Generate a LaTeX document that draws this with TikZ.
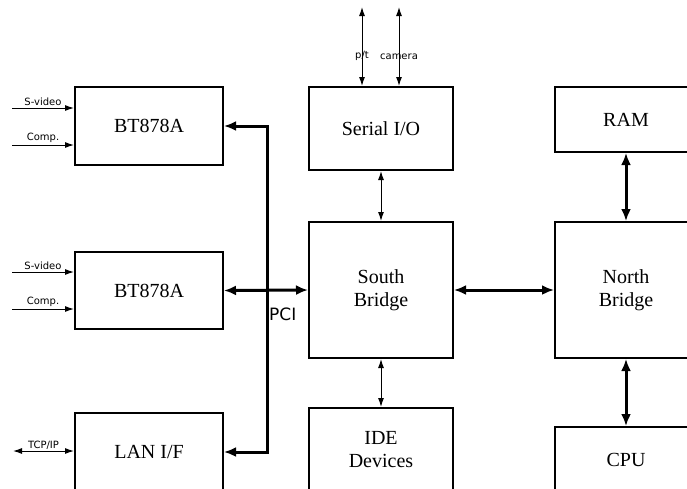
\documentclass[tikz,border=0pt]{standalone}
\usepackage{fontspec}
\setmainfont{Liberation Serif}
\newfontfamily\labelfont{DejaVu Sans}
\usetikzlibrary{arrows.meta}

\tikzset{
  blok/.style={draw, line width=2pt, align=center, inner sep=0pt,
    font=\fontsize{20}{23}\selectfont},
  klein/.style={font=\labelfont\fontsize{10}{11}\selectfont, inner sep=1.5pt},
  dunpijl/.style={line width=1pt, -{Latex[length=9pt,width=6pt]}},
  dunpijlen/.style={line width=1pt, {Latex[length=9pt,width=6pt]}-{Latex[length=9pt,width=6pt]}},
  dikpijlen/.style={line width=3pt, {Latex[length=12pt,width=10pt]}-{Latex[length=12pt,width=10pt]}},
}

\begin{document}
\begin{tikzpicture}[x=1pt, y=-1pt]
\useasboundingbox (0,0) rectangle (687,488);
\clip (0,0) rectangle (687,488);

% Blokken links
\node[blok, minimum width=148, minimum height=78] (bta) at (149,126) {BT878A};
\node[blok, minimum width=148, minimum height=77] (btb) at (149,290.5) {BT878A};
\node[blok, minimum width=148, minimum height=78] (lan) at (149,452) {LAN I/F};

% Blokken midden
\node[blok, minimum width=144, minimum height=83] (serial) at (381,128.5) {Serial I/O};
\node[blok, minimum width=144, minimum height=136] (south) at (381,290) {South\\Bridge};
\node[blok, minimum width=144, minimum height=84] (ide) at (381,450) {IDE\\Devices};

% Blokken rechts
\node[blok, minimum width=142, minimum height=65] (ram) at (626,119.5) {RAM};
\node[blok, minimum width=142, minimum height=136] (north) at (626,290) {North\\Bridge};
\node[blok, minimum width=142, minimum height=66] (cpu) at (626,460) {CPU};

% Ingangen video en netwerk
\coordinate (sva) at (12,108);
\coordinate (cpa) at (12,145);
\coordinate (svb) at (12,272);
\coordinate (cpb) at (12,309);
\coordinate (tcp) at (13,451);
\draw[dunpijl] (sva) -- (bta.west |- sva) node[midway, above, klein] {S-video};
\draw[dunpijl] (cpa) -- (bta.west |- cpa) node[midway, above, klein] {Comp.};
\draw[dunpijl] (svb) -- (btb.west |- svb) node[midway, above, klein] {S-video};
\draw[dunpijl] (cpb) -- (btb.west |- cpb) node[midway, above, klein] {Comp.};
\draw[dunpijlen] (tcp) -- (lan.west |- tcp) node[midway, above, klein] {TCP/IP};

% Seriele aansluitingen
\coordinate (pt) at (362,7);
\coordinate (cam) at (399,7);
\draw[dunpijlen] (serial.north -| pt) -- (pt) node[pos=0.375, klein] {p/t};
\draw[dunpijlen] (serial.north -| cam) -- (cam) node[pos=0.375, klein] {camera};

% PCI-bus
\coordinate (onderbus) at (267,451);
\draw[dikpijlen] (bta.east) -| (onderbus) |- (lan.east);
\draw[dikpijlen] (btb.east) -- (south.west);
\node[anchor=west, inner sep=0pt, font=\labelfont\fontsize{17}{20}\selectfont] (pci) at (269,314) {PCI};

% Verbindingen tussen de bruggen
\draw[dunpijlen] (serial.south) -- (south.north);
\draw[dunpijlen] (south.south) -- (ide.north);
\draw[dikpijlen] (south.east) -- (north.west);
\draw[dikpijlen] (ram.south) -- (north.north);
\draw[dikpijlen] (north.south) -- (cpu.north);
\end{tikzpicture}
\end{document}
